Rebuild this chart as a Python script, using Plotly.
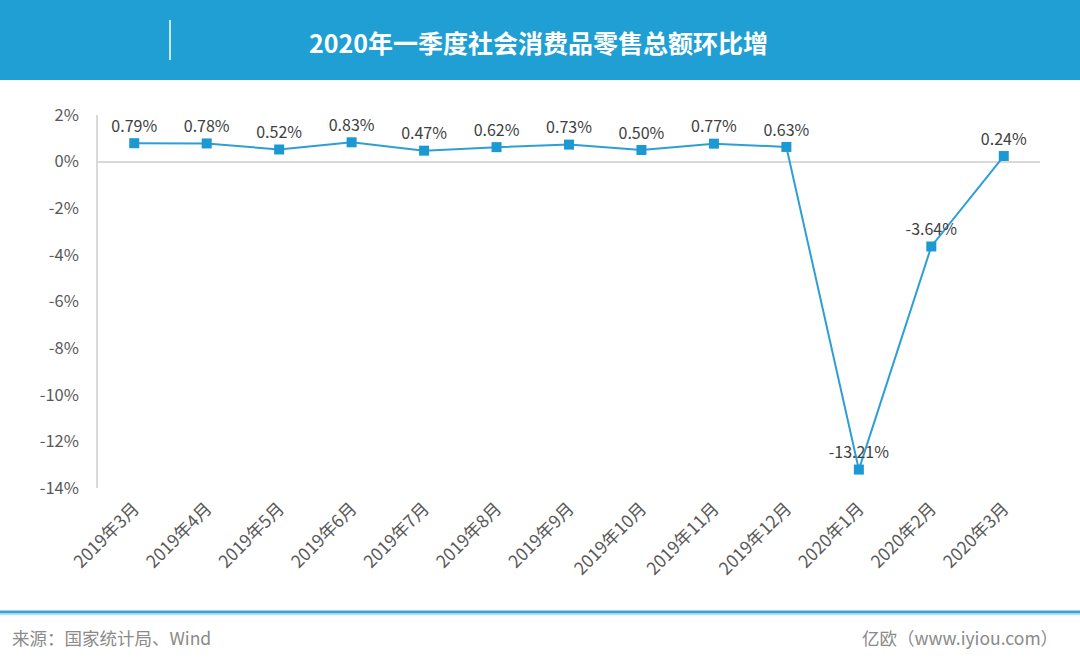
import plotly.graph_objects as go

categories = ["2019年3月", "2019年4月", "2019年5月", "2019年6月", "2019年7月", "2019年8月",
              "2019年9月", "2019年10月", "2019年11月", "2019年12月", "2020年1月", "2020年2月", "2020年3月"]
values = [0.79, 0.78, 0.52, 0.83, 0.47, 0.62, 0.73, 0.50, 0.77, 0.63, -13.21, -3.64, 0.24]
tick_vals = [2, 0, -2, -4, -6, -8, -10, -12, -14]
tick_text = ["2%", "0%", "-2%", "-4%", "-6%", "-8%", "-10%", "-12%", "-14%"]

W, H = 1080, 664
L, R, T, B = 98, 40, 115, 176
PW, PH = W - L - R, H - T - B

def px(x):
    return (x - L) / PW

def py(y):
    return (H - B - y) / PH

FONT = "Noto Sans CJK SC"

fig = go.Figure()
fig.add_trace(go.Scatter(
    x=categories, y=values, mode="lines+markers+text",
    line=dict(color="#2e9fd5", width=2),
    marker=dict(symbol="square", size=10, color="#1c98d2"),
    text=[f"{v:.2f}%" for v in values], textposition="top center",
    textfont=dict(family=FONT, size=16, color="#404040"),
    cliponaxis=False, hoverinfo="skip",
))

shapes = [
    dict(type="rect", xref="paper", yref="paper", x0=px(0), x1=px(W), y0=py(80), y1=py(0),
         fillcolor="#1f9fd4", line=dict(width=0), layer="below"),
    dict(type="line", xref="paper", yref="paper", x0=px(170), x1=px(170), y0=py(60), y1=py(20),
         line=dict(color="white", width=1.5)),
    dict(type="line", xref="paper", yref="paper", x0=px(0), x1=px(W), y0=py(612), y1=py(612),
         line=dict(color="#3aa6d0", width=3)),
    dict(type="line", xref="paper", yref="paper", x0=px(0), x1=px(W), y0=py(614.5), y1=py(614.5),
         line=dict(color="#b8e2f2", width=1.5)),
]

annotations = [
    dict(text="2020年一季度社会消费品零售总额环比增", xref="paper", yref="paper",
         x=px(307), y=py(42), xanchor="left", yanchor="middle", showarrow=False,
         font=dict(family=FONT, size=25, color="white", weight="bold")),
    dict(text="来源：国家统计局、Wind", xref="paper", yref="paper",
         x=px(10), y=py(637), xanchor="left", yanchor="middle", showarrow=False,
         font=dict(family=FONT, size=17.5, color="#8a8a8a")),
    dict(text="亿欧（www.iyiou.com）", xref="paper", yref="paper",
         x=px(1060), y=py(637), xanchor="right", yanchor="middle", showarrow=False,
         font=dict(family=FONT, size=17.5, color="#8a8a8a")),
]

fig.update_layout(
    width=W, height=H, margin=dict(l=L, r=R, t=T, b=B, autoexpand=False),
    paper_bgcolor="white", plot_bgcolor="white",
    showlegend=False, shapes=shapes, annotations=annotations,
    font=dict(family=FONT, color="#595959"),
    xaxis=dict(type="category", range=[-0.5, len(categories) - 0.5], showgrid=False,
               showline=False, zeroline=False, tickangle=-45, ticks="", ticklabelstandoff=6,
               tickfont=dict(family=FONT, size=17.5, color="#595959"), fixedrange=True),
    yaxis=dict(range=[-14, 2], tickvals=tick_vals, ticktext=tick_text, showgrid=False,
               zeroline=True, zerolinecolor="#d9d9d9", zerolinewidth=1.5,
               showline=True, linecolor="#d9d9d9", linewidth=1.5, ticks="", ticklabelstandoff=14,
               tickfont=dict(family=FONT, size=16.5, color="#595959"), fixedrange=True),
)
fig.write_html("out.html", config=dict(displayModeBar=False),
               post_script="document.body.style.margin='0';document.body.style.padding='0';")
